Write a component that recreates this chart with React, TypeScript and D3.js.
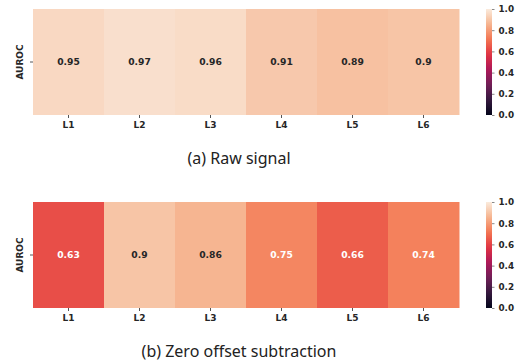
import React, { useRef, useEffect } from 'react';
import * as d3 from 'd3';

const layers = ['L1', 'L2', 'L3', 'L4', 'L5', 'L6'];
const rawSignal = [0.95, 0.97, 0.96, 0.91, 0.89, 0.9];
const zeroOffset = [0.63, 0.9, 0.86, 0.75, 0.66, 0.74];
const rowLabel = 'AUROC';
const cbarTicks = [0, 0.2, 0.4, 0.6, 0.8, 1.0];
const captions = ['(a) Raw signal', '(b) Zero offset subtraction'];

// approximate seaborn "rocket" colormap
const rocketStops = ['#03051a', '#35193e', '#701f57', '#ad1759', '#e13342', '#f37651', '#f6b48f', '#faebdd'];
const rocket = d3.scaleLinear<string>()
  .domain(rocketStops.map((_, i) => i / (rocketStops.length - 1)))
  .range(rocketStops)
  .interpolate(d3.interpolateRgb);

const width = 524;
const height = 364;

const App = () => {
  const svgRef = useRef<SVGSVGElement>(null);

  useEffect(() => {
    const svg = d3.select(svgRef.current);
    svg.selectAll('*').remove();

    const font = 'DejaVu Sans, sans-serif';
    const x = d3.scaleBand().domain(layers).range([33, 459]);

    // gradient for colorbar
    const defs = svg.append('defs');
    const grad = defs.append('linearGradient')
      .attr('id', 'rocket-grad')
      .attr('x1', 0).attr('y1', 1).attr('x2', 0).attr('y2', 0);
    d3.range(0, 1.0001, 0.05).forEach(t => {
      grad.append('stop').attr('offset', t).attr('stop-color', rocket(t));
    });

    const panels = [
      { data: rawSignal, top: 9, bottom: 115, caption: captions[0], capY: 164 },
      { data: zeroOffset, top: 202, bottom: 308, caption: captions[1], capY: 357 },
    ];

    panels.forEach(p => {
      const g = svg.append('g');
      const y = d3.scaleBand().domain([rowLabel]).range([p.top, p.bottom]);

      g.selectAll('rect.cell')
        .data(p.data)
        .join('rect')
        .attr('class', 'cell')
        .attr('x', (_, i) => x(layers[i])!)
        .attr('y', y(rowLabel)!)
        .attr('width', x.bandwidth() + 0.5)
        .attr('height', y.bandwidth())
        .attr('fill', d => rocket(d));

      g.selectAll('text.val')
        .data(p.data)
        .join('text')
        .attr('class', 'val')
        .attr('x', (_, i) => x(layers[i])! + x.bandwidth() / 2)
        .attr('y', y(rowLabel)! + y.bandwidth() / 2)
        .attr('dy', '0.35em')
        .attr('text-anchor', 'middle')
        .attr('font-family', font)
        .attr('font-weight', 'bold')
        .attr('font-size', 9.2)
        .attr('fill', d => {
          const col = d3.rgb(rocket(d));
          const lum = 0.2126 * Math.pow(col.r / 255, 2.2) + 0.7152 * Math.pow(col.g / 255, 2.2) + 0.0722 * Math.pow(col.b / 255, 2.2);
          return lum > 0.408 ? '#262626' : '#ffffff';
        })
        .text(d => String(d));

      // x axis
      const xAxis = g.append('g')
        .attr('transform', `translate(0,${p.bottom})`)
        .call(d3.axisBottom(x).tickSize(3).tickPadding(4));
      xAxis.select('.domain').remove();
      xAxis.selectAll('line').attr('stroke', '#555');
      xAxis.selectAll('text')
        .attr('font-family', font)
        .attr('font-weight', 'bold')
        .attr('font-size', 9)
        .attr('fill', '#262626');

      // y axis
      const yAxis = g.append('g')
        .attr('transform', `translate(33,0)`)
        .call(d3.axisLeft(y).tickSize(3).tickPadding(4));
      yAxis.select('.domain').remove();
      yAxis.selectAll('line').attr('stroke', '#555');
      yAxis.selectAll('text')
        .attr('font-family', font)
        .attr('font-weight', 'bold')
        .attr('font-size', 9)
        .attr('fill', '#262626')
        .attr('text-anchor', 'middle')
        .attr('x', 0)
        .attr('dy', 0)
        .attr('transform', `translate(-10,0) rotate(-90)`)
        .attr('y', 0);

      // colorbar
      const cb = d3.scaleLinear().domain([0, 1]).range([p.bottom, p.top]);
      g.append('rect')
        .attr('x', 486)
        .attr('y', p.top)
        .attr('width', 6)
        .attr('height', p.bottom - p.top)
        .attr('fill', 'url(#rocket-grad)');
      const cAxis = g.append('g')
        .attr('transform', 'translate(492,0)')
        .call(d3.axisRight(cb).tickValues(cbarTicks).tickFormat(d3.format('.1f')).tickSize(2.5).tickPadding(4));
      cAxis.select('.domain').remove();
      cAxis.selectAll('line').attr('stroke', '#888');
      cAxis.selectAll('text')
        .attr('font-family', font)
        .attr('font-weight', 'bold')
        .attr('font-size', 8.8)
        .attr('fill', '#262626');

      // caption
      svg.append('text')
        .attr('x', 239)
        .attr('y', p.capY)
        .attr('text-anchor', 'middle')
        .attr('font-family', 'Noto Sans, sans-serif')
        .attr('font-size', 16)
        .attr('fill', '#222')
        .text(p.caption);
    });
  }, []);

  return (
    <svg
      ref={svgRef}
      width={width}
      height={height}
      style={{ position: 'absolute', left: 0, top: 0, background: '#fff' }}
    />
  );
};

export default App;
